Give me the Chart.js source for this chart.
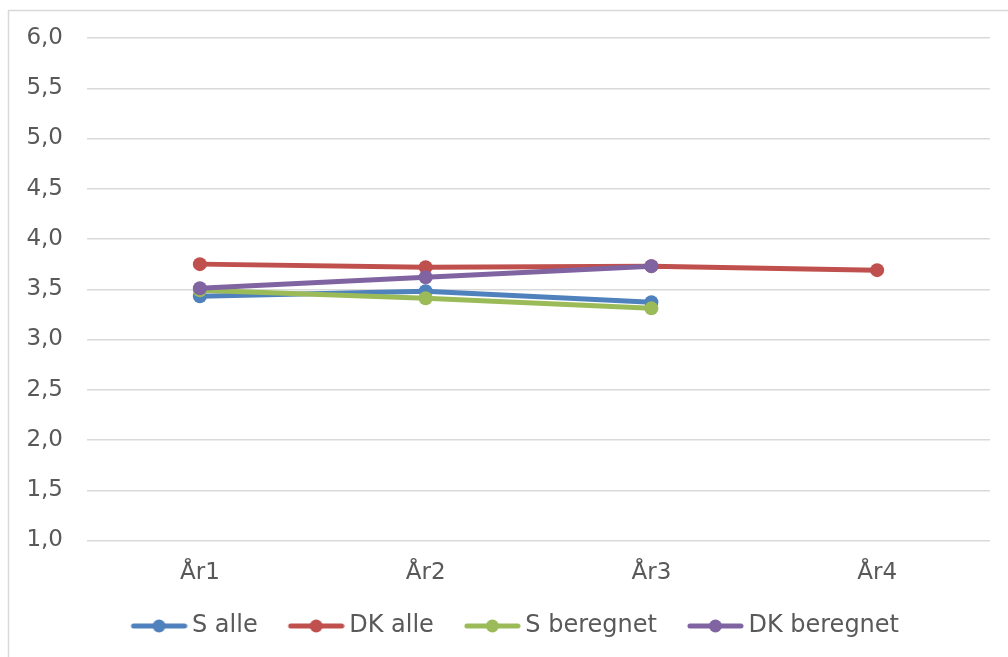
<!DOCTYPE html>
<html>
<head>
<meta charset="utf-8">
<script src="https://cdn.jsdelivr.net/npm/chart.js@4/dist/chart.umd.min.js"></script>
<style>
html,body{margin:0;padding:0;background:#fff;}
#wrap{width:1008px;height:657px;position:relative;}
</style>
</head>
<body>
<div id="wrap"><canvas id="c" width="1008" height="657"></canvas></div>
<script>
const categories = ['År1', 'År2', 'År3', 'År4'];
const seriesNames = ['S alle', 'DK alle', 'S beregnet', 'DK beregnet'];
const sAlle = [3.43, 3.48, 3.37, null];
const dkAlle = [3.75, 3.72, 3.73, 3.69];
const sBeregnet = [3.49, 3.41, 3.31, null];
const dkBeregnet = [3.51, 3.62, 3.73, null];
const colors = ['#4F81BD', '#C0504D', '#9BBB59', '#8064A2'];
const yTicks = {min: 1, max: 6, step: 0.5};

const values = [sAlle, dkAlle, sBeregnet, dkBeregnet];
const FONT = '"DejaVu Sans", Verdana, sans-serif';
const TXT = '#595959';

function legendImg(color) {
  const cv = document.createElement('canvas');
  cv.width = 88; cv.height = 16;
  const g = cv.getContext('2d');
  g.strokeStyle = color; g.lineWidth = 5; g.lineCap = 'round';
  g.beginPath(); g.moveTo(34, 8); g.lineTo(85, 8); g.stroke();
  g.fillStyle = color;
  g.beginPath(); g.arc(59.5, 8, 6.5, 0, Math.PI * 2); g.fill();
  return cv;
}
const legendImgs = colors.map(legendImg);

const borderPlugin = {
  id: 'outerBorder',
  beforeDraw(chart) {
    const ctx = chart.ctx;
    ctx.save();
    ctx.strokeStyle = '#d9d9d9';
    ctx.lineWidth = 1.5;
    ctx.strokeRect(8.5, 10.5, 1200, 800);
    ctx.restore();
  }
};

new Chart(document.getElementById('c'), {
  type: 'line',
  data: {
    labels: categories,
    datasets: seriesNames.map((name, i) => ({
      label: name,
      data: values[i],
      borderColor: colors[i],
      backgroundColor: colors[i],
      borderWidth: 5,
      pointRadius: 7,
      pointHoverRadius: 7,
      pointBorderWidth: 0,
      pointBackgroundColor: colors[i],
      tension: 0,
      spanGaps: false,
      order: seriesNames.length - i
    }))
  },
  options: {
    responsive: false,
    animation: false,
    devicePixelRatio: 1,
    layout: {padding: {left: 16, right: 18, top: 38, bottom: 9}},
    scales: {
      x: {
        offset: true,
        grid: {display: false},
        border: {display: false},
        ticks: {color: TXT, font: {family: FONT, size: 23}, padding: 11},
        afterFit(s) { s.height = 67; }
      },
      y: {
        min: yTicks.min,
        max: yTicks.max,
        grid: {color: '#d9d9d9', lineWidth: 1.4, drawTicks: false},
        border: {display: false},
        ticks: {
          stepSize: yTicks.step,
          color: TXT,
          font: {family: FONT, size: 23},
          padding: 24,
          callback: v => Number(v).toFixed(1).replace('.', ',')
        },
        afterFit(s) { s.width = 71; }
      }
    },
    plugins: {
      tooltip: {enabled: false},
      legend: {
        position: 'bottom',
        labels: {
          usePointStyle: true,
          pointStyleWidth: 73,
          padding: 6.5,
          color: TXT,
          font: {family: FONT, size: 24},
          generateLabels(chart) {
            return chart.data.datasets.map((ds, i) => ({
              text: ds.label,
              fillStyle: colors[i],
              strokeStyle: colors[i],
              fontColor: TXT,
              lineWidth: 0,
              pointStyle: legendImgs[i],
              hidden: false,
              datasetIndex: i
            }));
          }
        }
      }
    }
  },
  plugins: [borderPlugin]
});
</script>
</body>
</html>
